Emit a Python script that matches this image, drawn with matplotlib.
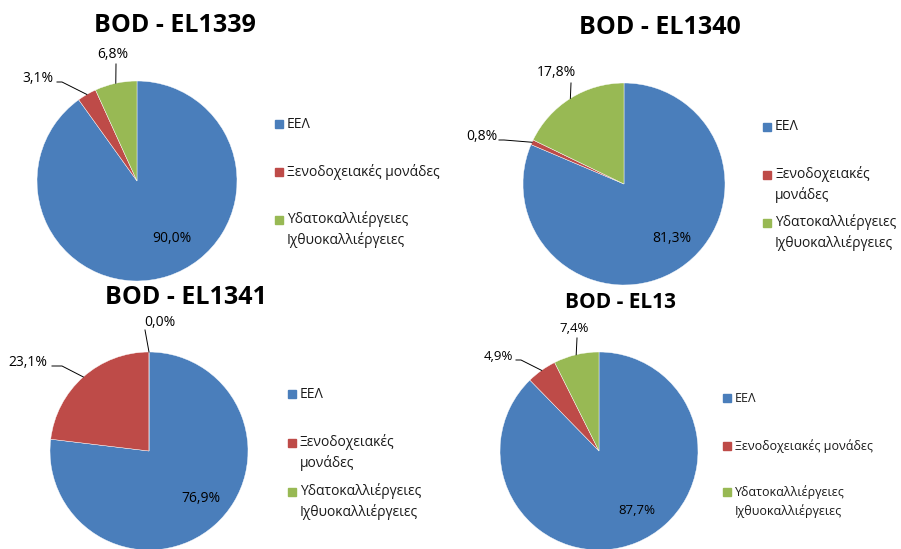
import numpy as np
import matplotlib.pyplot as plt

plt.rcParams['font.family'] = ['Open Sans', 'DejaVu Sans']

W, H = 901, 549

titles = ['BOD - EL1339', 'BOD - EL1340', 'BOD - EL1341', 'BOD - EL13']
categories = ['ΕΕΛ', 'Ξενοδοχειακές μονάδες', 'Υδατοκαλλιέργειες Ιχθυοκαλλιέργειες']
colors = ['#4A7EBB', '#BE4B48', '#98B954']

el1339 = [90.0, 3.1, 6.8]
el1340 = [81.3, 0.8, 17.8]
el1341 = [76.9, 23.1, 0.0]
el13 = [87.7, 4.9, 7.4]

# how each legend wraps its labels
legend_labels = [
    ['ΕΕΛ', 'Ξενοδοχειακές μονάδες', 'Υδατοκαλλιέργειες\nΙχθυοκαλλιέργειες'],
    ['ΕΕΛ', 'Ξενοδοχειακές\nμονάδες', 'Υδατοκαλλιέργειες\nΙχθυοκαλλιέργειες'],
    ['ΕΕΛ', 'Ξενοδοχειακές\nμονάδες', 'Υδατοκαλλιέργειες\nΙχθυοκαλλιέργειες'],
    ['ΕΕΛ', 'Ξενοδοχειακές μονάδες', 'Υδατοκαλλιέργειες\nΙχθυοκαλλιέργειες'],
]

# layout in image pixels (y measured from top)
layout = [
    dict(center=(137, 181), r=100, title=(175, 25), tsize=18, fs=10, lfs=10,
         leg_x=279, leg_y=[124, 172, 220],
         inside=(172, 239),
         outer=[((38, 79), [(57, 82), (62, 82)]), ((113, 55), [(116, 64)])]),
    dict(center=(624, 184), r=101, title=(660, 27), tsize=18, fs=10, lfs=10,
         leg_x=767, leg_y=[127, 175, 223],
         inside=(672, 238),
         outer=[((482, 137), [(499, 140), (504, 140)]), ((556, 73), [(571, 83)])]),
    dict(center=(149, 451), r=99, title=(186, 298), tsize=18, fs=10, lfs=10,
         leg_x=292, leg_y=[394, 443, 492],
         inside=(201, 498),
         outer=[((28, 362), [(52, 366), (62, 366)]), ((160, 323), [(145, 330)])]),
    dict(center=(599, 451), r=99, title=(620, 302), tsize=15, fs=9.5, lfs=9,
         leg_x=727, leg_y=[398, 446, 492],
         inside=(637, 510),
         outer=[((498, 356), [(516, 360), (521, 360)]), ((574, 329), [(577, 338)])]),
]


def fmt(v):
    return f'{v:.1f}%'.replace('.', ',')


fig = plt.figure(figsize=(9.01, 5.49), dpi=100)
ax = fig.add_axes([0, 0, 1, 1])

for values, title, labels, lay in zip([el1339, el1340, el1341, el13], titles, legend_labels, layout):
    cx, cy = lay['center']
    r = lay['r']
    wedges, _ = ax.pie(values, colors=colors, startangle=90, counterclock=False,
                       center=(cx, H - cy), radius=r,
                       wedgeprops=dict(edgecolor='white', linewidth=0.3))

    ax.text(lay['title'][0], H - lay['title'][1], title, ha='center', va='center',
            fontsize=lay['tsize'], fontweight='bold', color='black')

    # big slice label inside
    ix, iy = lay['inside']
    ax.text(ix, H - iy, fmt(values[0]), ha='center', va='center', fontsize=lay['fs'])

    # small slices with leader lines
    for w, v, (tpos, pts) in zip(wedges[1:], values[1:], lay['outer']):
        mid = np.deg2rad((w.theta1 + w.theta2) / 2)
        ex, ey = cx + r * np.cos(mid), (H - cy) + r * np.sin(mid)
        xs = [p[0] for p in pts] + [ex]
        ys = [H - p[1] for p in pts] + [ey]
        ax.plot(xs, ys, color='black', lw=0.7)
        ax.text(tpos[0], H - tpos[1], fmt(v), ha='center', va='center', fontsize=lay['fs'])

    # legend
    for lab, col, y in zip(labels, colors, lay['leg_y']):
        ax.plot(lay['leg_x'], H - y, marker='s', markersize=6, color=col, ls='none')
        n = lab.count('\n')
        ax.text(lay['leg_x'] + 8, H - y - n * 9.5, lab, ha='left', va='center',
                fontsize=lay['lfs'], linespacing=1.4, color='#1a1a1a')

ax.set_xlim(0, W)
ax.set_ylim(0, H)
ax.set_aspect('auto')
ax.axis('off')

fig.savefig('out.png', dpi=100)
